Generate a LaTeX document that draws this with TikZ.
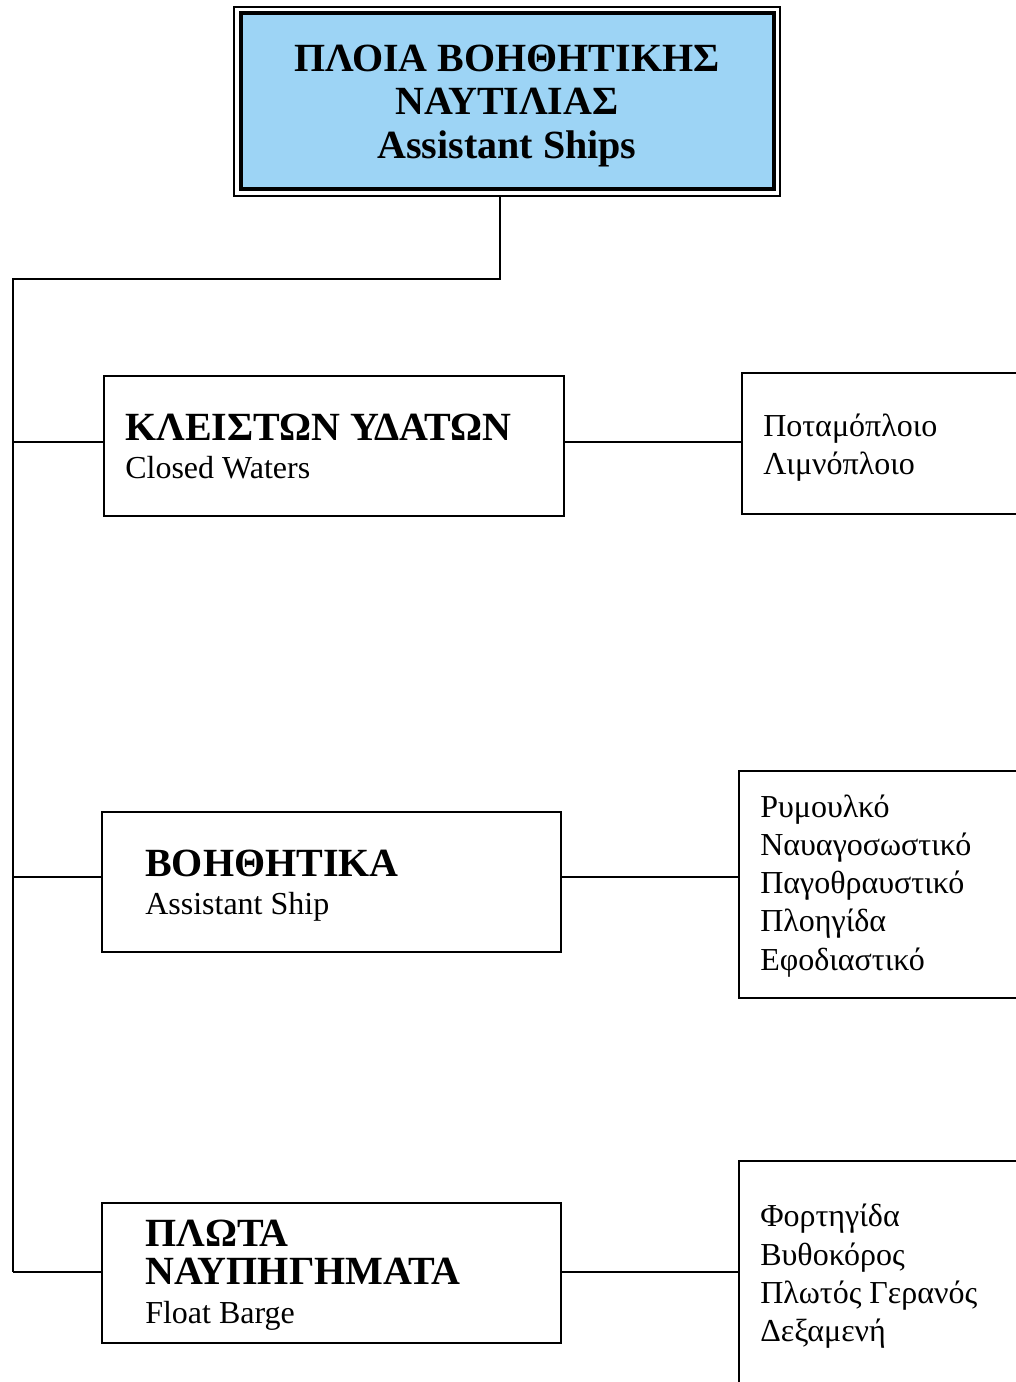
\documentclass[tikz,border=0pt]{standalone}
\usepackage{fontspec}
\setmainfont{Liberation Serif}
\definecolor{titleblue}{HTML}{9DD4F5}
\tikzset{
  px/.style={x=0.75pt,y=-0.75pt},
  conn/.style={line width=1.8pt},
  box/.style={draw,line width=2pt,rectangle,inner sep=0pt},
  head/.style={anchor=base west,inner sep=0pt,font=\fontsize{30}{35}\selectfont\bfseries},
  sub/.style={anchor=base west,inner sep=0pt,font=\fontsize{24}{28}\selectfont},
  item/.style={anchor=base west,inner sep=0pt,font=\fontsize{24}{28}\selectfont},
  ttl/.style={anchor=base,inner sep=0pt,font=\fontsize{30}{35}\selectfont\bfseries}
}
\begin{document}
\begin{tikzpicture}[px]
\useasboundingbox (0,0) rectangle (1016,1382);
\clip (0,0) rectangle (1016,1382);
% title
\node[box,line width=1.8pt,minimum width=409.5pt,minimum height=141.75pt] (tout) at (507,101.5) {};
\node[box,line width=3pt,fill=titleblue,minimum width=399.75pt,minimum height=132pt] (t) at (507.5,101) {};
\node[ttl] (t1) at (507,71) {ΠΛΟΙΑ ΒΟΗΘΗΤΙΚΗΣ};
\node[ttl] (t2) at (507,114) {ΝΑΥΤΙΛΙΑΣ};
\node[ttl] (t3) at (507,158) {Assistant Ships};
% left boxes
\node[box,minimum width=345pt,minimum height=105pt] (b1) at (334,446) {};
\node[box,minimum width=344.25pt,minimum height=105pt] (b2) at (331.5,882) {};
\node[box,minimum width=344.25pt,minimum height=105pt] (b3) at (331.5,1273) {};
\node[head] (b1h) at (125,440) {ΚΛΕΙΣΤΩΝ ΥΔΑΤΩΝ};
\node[sub] (b1s) at (125,478) {Closed Waters};
\node[head] (b2h) at (145,876) {ΒΟΗΘΗΤΙΚΑ};
\node[sub] (b2s) at (145,914) {Assistant Ship};
\node[head] (b3h) at (145,1246) {ΠΛΩΤΑ};
\node[head] (b3h2) at (145,1284) {ΝΑΥΠΗΓΗΜΑΤΑ};
\node[sub] (b3s) at (145,1323) {Float Barge};
% right boxes
\node[box,minimum width=223.5pt,minimum height=105.75pt] (q1) at (891,443.5) {};
\node[box,minimum width=225.75pt,minimum height=170.25pt] (q2) at (889.5,884.5) {};
\node[box,minimum width=225.75pt,minimum height=194.25pt] (q3) at (889.5,1290.5) {};
\node[item] (q1a) at (763,436) {Ποταμόπλοιο};
\node[item] (q1b) at (763,474) {Λιμνόπλοιο};
\node[item] (q2a) at (760,817) {Ρυμουλκό};
\node[item] (q2b) at (760,855) {Ναυαγοσωστικό};
\node[item] (q2c) at (760,893) {Παγοθραυστικό};
\node[item] (q2d) at (760,931) {Πλοηγίδα};
\node[item] (q2e) at (760,970) {Εφοδιαστικό};
\node[item] (q3a) at (760,1226) {Φορτηγίδα};
\node[item] (q3b) at (760,1265) {Βυθοκόρος};
\node[item] (q3c) at (760,1303) {Πλωτός Γερανός};
\node[item] (q3d) at (760,1341) {Δεξαμενή};
% connectors
\coordinate (j) at (500,279);
\coordinate (c) at (13,279);
\coordinate (r1) at (13,442);
\coordinate (r2) at (13,877);
\coordinate (r3) at (13,1272);
\draw[conn] (tout.south -| j) -- (j) -- (c) -- (r3);
\draw[conn] (r1) -- (r1 -| b1.west);
\draw[conn] (r2) -- (r2 -| b2.west);
\draw[conn] (r3) -- (r3 -| b3.west);
\draw[conn] (b1.east |- r1) -- (r1 -| q1.west);
\draw[conn] (b2.east |- r2) -- (r2 -| q2.west);
\draw[conn] (b3.east |- r3) -- (r3 -| q3.west);
\end{tikzpicture}
\end{document}
